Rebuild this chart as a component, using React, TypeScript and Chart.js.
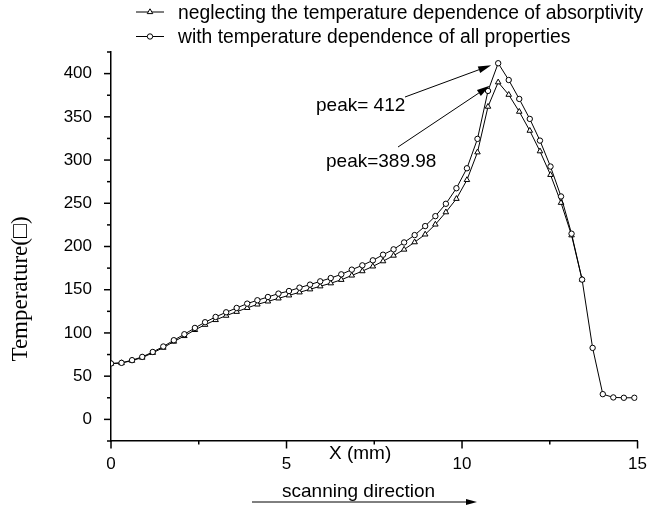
import { useEffect, useRef } from "react";
import { Chart, registerables } from "chart.js";

Chart.register(...registerables);

// ---- data ----
const xPositions = [
  0, 0.3, 0.6, 0.89, 1.19, 1.49, 1.79, 2.09, 2.39, 2.68, 2.98, 3.28, 3.58, 3.88, 4.17, 4.47,
  4.77, 5.07, 5.37, 5.67, 5.96, 6.26, 6.56, 6.86, 7.16, 7.46, 7.75, 8.05, 8.35, 8.65, 8.95,
  9.24, 9.54, 9.84, 10.14, 10.44, 10.74, 11.03, 11.33, 11.63, 11.93, 12.22, 12.52, 12.82,
  13.12, 13.42, 13.72, 14.01, 14.31, 14.61, 14.91,
];

const allProperties = [
  64.7, 65.4, 68.5, 72.3, 78, 84.3, 91.6, 98.5, 105.8, 112.4, 118.5, 123.9, 128.9, 133.9,
  137.8, 141.6, 145.5, 148.5, 152.4, 155.9, 159.7, 163.5, 167.8, 173.2, 178.2, 184, 190.5,
  196.7, 204.7, 213.2, 223.6, 235.1, 249.4, 267.4, 290.5, 324.5, 380, 412, 392.6, 370.7,
  347.6, 322.5, 292.5, 257.9, 214.8, 161.7, 82.7, 29.2, 25.4, 25, 25,
];

const neglectingAbsorptivity = [
  64.5, 65.2, 68, 71.5, 77, 83, 90, 96.5, 103.5, 109.5, 115, 120, 124.5, 129, 133, 136.5,
  140, 143.5, 147, 150.5, 154, 157.5, 161.5, 166.5, 171.5, 177, 183, 189.5, 196.5, 205, 214,
  225.5, 239.7, 255.2, 277, 309, 361.8, 389.98, 375.6, 356, 334, 310.2, 282.9, 250.6, 213,
  161.7,
];

const seriesLabels = [
  "neglecting the temperature dependence of absorptivity",
  "with temperature dependence of all properties",
];

const peakLabels = ["peak= 412", "peak=389.98"];
const peakIndex = 37;

const xTickLabels = [0, 5, 10, 15];
const xMinorTicks = [2.5, 7.5, 12.5];
const yTickLabels = [0, 50, 100, 150, 200, 250, 300, 350, 400];
const yMinorTicks = [-25, 25, 75, 125, 175, 225, 275, 325, 375, 425];

const SANS = "'Liberation Sans', Arial, sans-serif";
const SERIF = "'Liberation Serif', 'Times New Roman', serif";

function drawTriangle(ctx: CanvasRenderingContext2D, x: number, y: number, r: number) {
  ctx.beginPath();
  for (let k = 0; k < 3; k++) {
    const a = -Math.PI / 2 + (k * 2 * Math.PI) / 3;
    const px = x + Math.cos(a) * r;
    const py = y + Math.sin(a) * r;
    if (k === 0) ctx.moveTo(px, py);
    else ctx.lineTo(px, py);
  }
  ctx.closePath();
  ctx.fillStyle = "#fff";
  ctx.fill();
  ctx.stroke();
}

function drawCircle(ctx: CanvasRenderingContext2D, x: number, y: number, r: number) {
  ctx.beginPath();
  ctx.arc(x, y, r, 0, Math.PI * 2);
  ctx.fillStyle = "#fff";
  ctx.fill();
  ctx.stroke();
}

function arrow(ctx: CanvasRenderingContext2D, x0: number, y0: number, x1: number, y1: number, len: number, hw: number) {
  const ang = Math.atan2(y1 - y0, x1 - x0);
  const bx = x1 - Math.cos(ang) * len;
  const by = y1 - Math.sin(ang) * len;
  ctx.beginPath();
  ctx.moveTo(x0, y0);
  ctx.lineTo(bx, by);
  ctx.stroke();
  ctx.beginPath();
  ctx.moveTo(x1, y1);
  ctx.lineTo(bx + Math.sin(ang) * hw, by - Math.cos(ang) * hw);
  ctx.lineTo(bx - Math.sin(ang) * hw, by + Math.cos(ang) * hw);
  ctx.closePath();
  ctx.fillStyle = "#000";
  ctx.fill();
}

const decorPlugin = {
  id: "decor",
  afterDraw(chart: any) {
    const ctx: CanvasRenderingContext2D = chart.ctx;
    const xs = chart.scales.x;
    const ys = chart.scales.y;
    const area = chart.chartArea;
    ctx.save();
    ctx.strokeStyle = "#000";
    ctx.fillStyle = "#000";
    ctx.lineWidth = 1.5;

    // y ticks
    for (const v of yTickLabels) {
      const py = ys.getPixelForValue(v);
      ctx.beginPath();
      ctx.moveTo(area.left - 7, py);
      ctx.lineTo(area.left, py);
      ctx.stroke();
    }
    for (const v of yMinorTicks) {
      const py = ys.getPixelForValue(v);
      ctx.beginPath();
      ctx.moveTo(area.left - 4, py);
      ctx.lineTo(area.left, py);
      ctx.stroke();
    }
    // x ticks
    for (const v of xTickLabels) {
      const px = xs.getPixelForValue(v);
      ctx.beginPath();
      ctx.moveTo(px, area.bottom);
      ctx.lineTo(px, area.bottom + 7.5);
      ctx.stroke();
    }
    for (const v of xMinorTicks) {
      const px = xs.getPixelForValue(v);
      ctx.beginPath();
      ctx.moveTo(px, area.bottom);
      ctx.lineTo(px, area.bottom + 3.5);
      ctx.stroke();
    }

    ctx.lineWidth = 1;
    ctx.fillStyle = "#000";

    // legend
    ctx.font = `19.3px ${SANS}`;
    ctx.textBaseline = "alphabetic";
    ctx.textAlign = "left";
    const textX = 178;
    const baselines = [18.5, 43];
    for (let i = 0; i < 2; i++) {
      const b = baselines[i];
      const my = b - 6.5;
      ctx.strokeStyle = "#000";
      ctx.beginPath();
      ctx.moveTo(textX - 42, my);
      ctx.lineTo(textX - 14, my);
      ctx.stroke();
      if (i === 0) drawTriangle(ctx, textX - 28, my, 3.2);
      else drawCircle(ctx, textX - 28, my, 2.7);
      ctx.fillStyle = "#000";
      ctx.fillText(seriesLabels[i], textX, b);
    }

    // peak annotations
    ctx.font = `19px ${SANS}`;
    const px = xs.getPixelForValue(xPositions[peakIndex]);
    const pyC = ys.getPixelForValue(allProperties[peakIndex]);
    const pyT = ys.getPixelForValue(neglectingAbsorptivity[peakIndex]);
    ctx.fillStyle = "#000";
    ctx.fillText(peakLabels[0], 316, 111);
    ctx.fillText(peakLabels[1], 326, 167);
    ctx.lineWidth = 1;
    arrow(ctx, 405, 97, px - 7, pyC + 2, 13, 3.5);
    arrow(ctx, 398, 147, px - 8.5, pyT + 3.5, 13, 3.5);

    // x axis title
    ctx.fillStyle = "#000";
    ctx.fillText("X (mm)", 329, 459);

    // scanning direction
    ctx.fillText("scanning direction", 282, 497);
    arrow(ctx, 252, 502, 477, 502, 11, 3);

    // y axis title
    ctx.save();
    ctx.translate(27, 289);
    ctx.rotate(-Math.PI / 2);
    ctx.font = `23px ${SERIF}`;
    ctx.textAlign = "center";
    ctx.textBaseline = "alphabetic";
    ctx.fillText("Temperature(\u25A1)", 0, 0);
    ctx.restore();

    ctx.restore();
  },
};

export default function App() {
  const canvasRef = useRef<HTMLCanvasElement | null>(null);

  useEffect(() => {
    if (!canvasRef.current) return;
    const chart = new Chart(canvasRef.current, {
      type: "line",
      data: {
        datasets: [
          {
            label: seriesLabels[1],
            data: allProperties.map((y, i) => ({ x: xPositions[i], y })),
            borderColor: "#000",
            borderWidth: 1,
            pointStyle: "circle",
            pointRadius: 2.7,
            pointBorderWidth: 1,
            pointBackgroundColor: "#fff",
            pointBorderColor: "#000",
            tension: 0,
          },
          {
            label: seriesLabels[0],
            data: neglectingAbsorptivity.map((y, i) => ({ x: xPositions[i], y })),
            borderColor: "#000",
            borderWidth: 1,
            pointStyle: "triangle",
            pointRadius: 3.2,
            pointBorderWidth: 1,
            pointBackgroundColor: "#fff",
            pointBorderColor: "#000",
            tension: 0,
          },
        ],
      },
      options: {
        animation: false,
        responsive: false,
        devicePixelRatio: 1,
        layout: { padding: { top: 52, right: 9, left: 0, bottom: 0 } },
        plugins: {
          legend: { display: false },
          tooltip: { enabled: false },
        },
        scales: {
          x: {
            type: "linear",
            min: 0,
            max: 15,
            grid: { display: false },
            border: { display: true, color: "#000", width: 1.5 },
            ticks: {
              color: "#000",
              font: { family: SANS, size: 17 },
              padding: 5,
              maxRotation: 0,
              autoSkip: false,
            },
            afterBuildTicks: (s: any) => {
              s.ticks = xTickLabels.map((v) => ({ value: v }));
            },
            afterFit: (s: any) => {
              s.height = 69;
            },
          },
          y: {
            type: "linear",
            min: -25,
            max: 425,
            grid: { display: false },
            border: { display: true, color: "#000", width: 1.5 },
            ticks: {
              color: "#000",
              font: { family: SANS, size: 17 },
              padding: 11,
              autoSkip: false,
            },
            afterBuildTicks: (s: any) => {
              s.ticks = yTickLabels.map((v) => ({ value: v }));
            },
            afterFit: (s: any) => {
              s.width = 111;
            },
          },
        },
      },
      plugins: [decorPlugin],
    });
    return () => chart.destroy();
  }, []);

  return (
    <div style={{ position: "absolute", left: 0, top: 0, width: 652, height: 510, background: "#fff" }}>
      <canvas ref={canvasRef} width={652} height={510} style={{ display: "block" }} />
    </div>
  );
}
